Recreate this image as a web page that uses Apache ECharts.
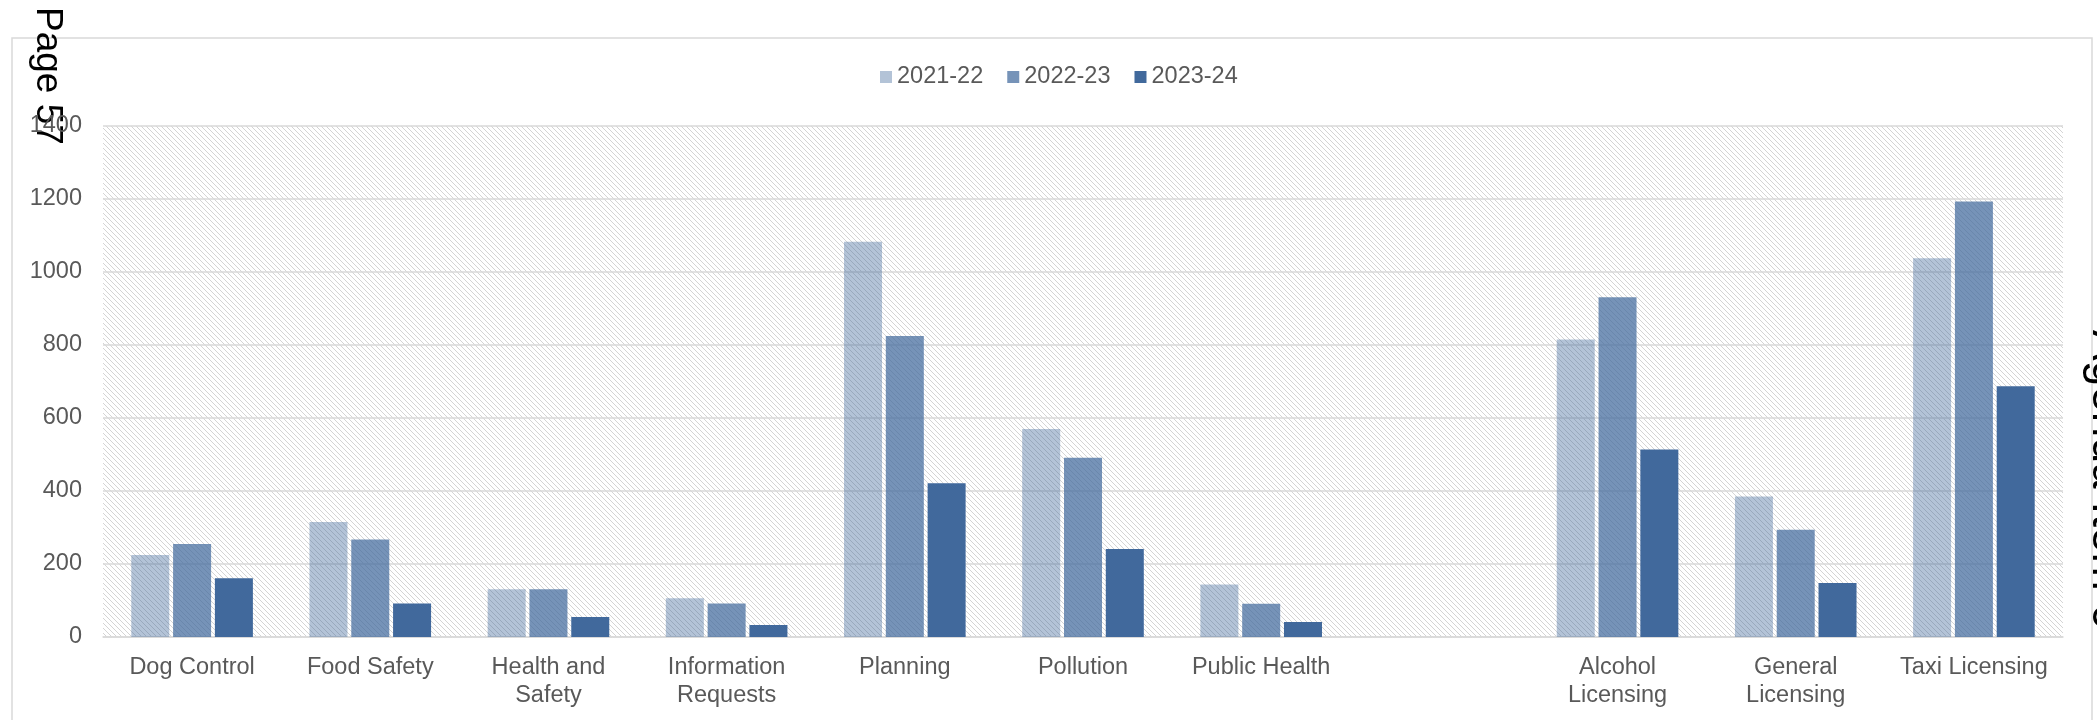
<!DOCTYPE html>
<html>
<head>
<meta charset="utf-8">
<script src="https://cdn.jsdelivr.net/npm/echarts@6/dist/echarts.min.js"></script>
<style>
  html, body { margin: 0; padding: 0; background: #fff; }
  #chart { width: 2097px; height: 720px; }
</style>
</head>
<body>
<div id="chart"></div>
<script>
// categories (one blank slot between the two groups, as in the source)
const categories = [
  'Dog Control', 'Food Safety', 'Health and\nSafety', 'Information\nRequests',
  'Planning', 'Pollution', 'Public Health', '',
  'Alcohol\nLicensing', 'General\nLicensing', 'Taxi Licensing'
]
const seriesNames = ['2021-22', '2022-23', '2023-24']

// values
const values2122 = [225, 315, 131, 106, 1083, 570, 144, null, 815, 385, 1038]
const values2223 = [255, 267, 131, 92, 825, 491, 91, null, 931, 294, 1193]
const values2324 = [161, 92, 55, 33, 421, 241, 41, null, 514, 148, 687]

const yTicks = { min: 0, max: 1400, interval: 200 }

const textColor = '#595959'
const lineColor = '#d9d9d9'
const font = 'Liberation Sans, Arial, sans-serif'

// diagonal hatch used for the plot background
const makeHatch = () => {
  const c = document.createElement('canvas')
  c.width = 5
  c.height = 5
  const ctx = c.getContext('2d')
  ctx.fillStyle = '#ffffff'
  ctx.fillRect(0, 0, 5, 5)
  ctx.fillStyle = '#d4d4d4'
  for (let i = 0; i < 5; i++) ctx.fillRect(i, i, 1, 1)
  return c
}

const chart = echarts.init(document.getElementById('chart'))

const barColors = [
  'rgba(65, 105, 156, 0.40)',
  'rgba(65, 105, 156, 0.72)',
  '#41699c'
]
const allValues = [values2122, values2223, values2324]

const option = {
  animation: false,
  textStyle: { fontFamily: font },
  legend: {
    data: seriesNames,
    left: 875,
    top: 60,
    itemWidth: 12,
    itemHeight: 12,
    itemGap: 24,
    icon: 'rect',
    textStyle: { color: textColor, fontSize: 23.5, fontFamily: font }
  },
  grid: {
    left: 103,
    right: 34,
    top: 126,
    bottom: 83,
    show: true,
    borderWidth: 0,
    backgroundColor: { image: makeHatch(), repeat: 'repeat' }
  },
  xAxis: {
    type: 'category',
    data: categories,
    axisTick: { show: false },
    axisLine: { lineStyle: { color: lineColor, width: 1.5 } },
    axisLabel: {
      color: textColor,
      fontSize: 23.5,
      lineHeight: 28,
      margin: 17,
      interval: 0,
      fontFamily: font
    }
  },
  yAxis: {
    type: 'value',
    min: yTicks.min,
    max: yTicks.max,
    interval: yTicks.interval,
    axisLine: { show: false },
    axisTick: { show: false },
    splitLine: { lineStyle: { color: lineColor, width: 1.5 } },
    axisLabel: {
      color: textColor,
      fontSize: 23.5,
      margin: 21,
      fontFamily: font,
      formatter: (v) => String(v)
    }
  },
  series: seriesNames.map((name, i) => ({
    name: name,
    type: 'bar',
    data: allValues[i],
    barWidth: 38,
    barGap: '10%',
    itemStyle: { color: barColors[i] }
  })),
  graphic: [
    {
      type: 'rect',
      silent: true,
      shape: { x: 12, y: 38, width: 2080, height: 700 },
      style: { fill: 'none', stroke: lineColor, lineWidth: 1.5 }
    },
    {
      type: 'text',
      silent: true,
      x: 47,
      y: 7,
      rotation: -Math.PI / 2,
      style: {
        text: 'Page 57',
        font: '37px ' + font,
        fill: '#000',
        align: 'left',
        verticalAlign: 'middle'
      }
    },
    {
      type: 'text',
      silent: true,
      x: 2106,
      y: 330,
      rotation: -Math.PI / 2,
      style: {
        text: 'Agenda Item 6',
        font: '46px ' + font,
        fill: '#000',
        align: 'left',
        verticalAlign: 'middle'
      }
    }
  ]
}

chart.setOption(option)
</script>
</body>
</html>
